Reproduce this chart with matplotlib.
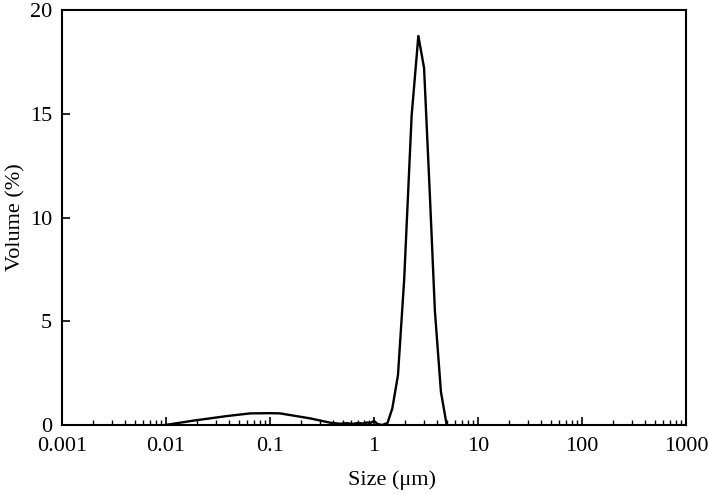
import numpy as np
import matplotlib
matplotlib.use("Agg")
import matplotlib.pyplot as plt
from matplotlib.ticker import LogLocator, FixedLocator, NullFormatter

# particle size distribution
size_um = [0.0098, 0.0183, 0.0384, 0.0645, 0.10, 0.125, 0.156, 0.243, 0.38,
           0.47, 0.55, 0.62, 0.70, 0.78, 0.86, 0.93, 1.0, 1.08, 1.2,
           1.35, 1.50, 1.70, 1.95, 2.30, 2.67, 3.03, 3.45, 3.85, 4.40, 5.0]
volume_pct = [0.0, 0.21, 0.43, 0.56, 0.57, 0.56, 0.48, 0.32, 0.11,
              0.06, 0.09, 0.05, 0.10, 0.07, 0.12, 0.10, 0.20, 0.05, 0.0,
              0.1, 0.8, 2.4, 7.0, 14.9, 18.75, 17.2, 11.0, 5.5, 1.6, 0.0]

x_ticks = [0.001, 0.01, 0.1, 1, 10, 100, 1000]
x_tick_labels = ["0.001", "0.01", "0.1", "1", "10", "100", "1000"]
y_ticks = [0, 5, 10, 15, 20]

plt.rcParams['font.family'] = ['Liberation Serif', 'DejaVu Serif']

fig = plt.figure(figsize=(7.09, 4.95), dpi=100)
ax = fig.add_axes([0.0874, 0.1414, 0.8802, 0.8384])

ax.plot(size_um, volume_pct, color='black', linewidth=1.7)

ax.set_xscale('log')
ax.set_xlim(0.001, 1000)
ax.set_ylim(0, 20)

ax.xaxis.set_major_locator(FixedLocator(x_ticks))
ax.set_xticklabels(x_tick_labels)
ax.xaxis.set_minor_locator(LogLocator(base=10, subs=np.arange(2, 10)))
ax.xaxis.set_minor_formatter(NullFormatter())
ax.set_yticks(y_ticks)

ax.tick_params(axis='both', which='major', direction='in', length=6, width=1.2,
               labelsize=16, top=False, right=False)
ax.tick_params(axis='x', which='minor', direction='in', length=3.5, width=1.0, top=False)
ax.tick_params(axis='x', which='major', pad=8.5)
ax.tick_params(axis='y', which='major', pad=7)

for s in ax.spines.values():
    s.set_linewidth(1.5)

ax.set_xlabel('Size (μm)', fontsize=16)
ax.xaxis.set_label_coords(0.529, -0.11)
ax.set_ylabel('Volume (%)', fontsize=16, labelpad=3)

fig.savefig('out.png', dpi=100)
